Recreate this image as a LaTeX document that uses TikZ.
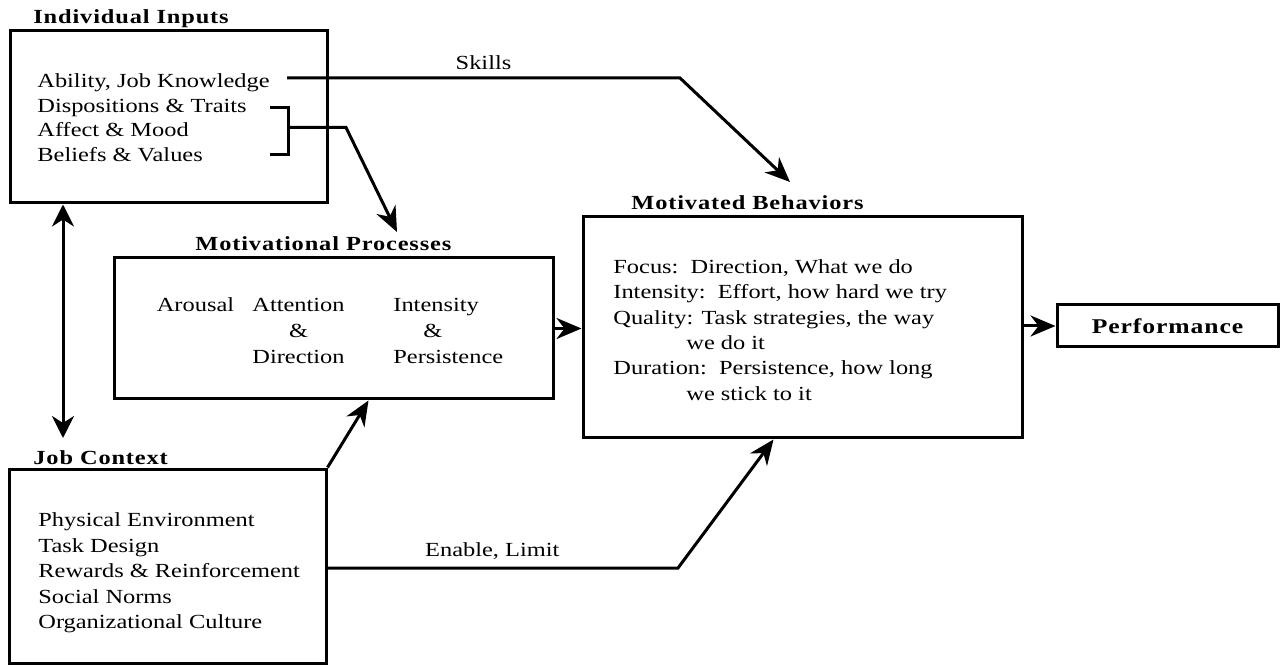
\documentclass[tikz,border=0pt]{standalone}
\usepackage{fontspec}
\setmainfont{Liberation Serif}[FakeStretch=1.22]
\newfontfamily\ttlfont{Liberation Serif}[FakeStretch=1.22,LetterSpace=4.3]
\usetikzlibrary{arrows.meta,calc}
\begin{document}
\begin{tikzpicture}[x=0.5pt,y=-0.5pt,
  box/.style={draw,line width=1.5pt,inner sep=0pt},
  conn/.style={line width=1.5pt},
  arr/.style={conn,-{Stealth[length=12.5pt,width=10.5pt,inset=4pt]}},
  dblarr/.style={conn,{Stealth[length=11pt,width=11pt,inset=3.5pt]}-{Stealth[length=11pt,width=11pt,inset=3.5pt]}},
  ttl/.style={font=\ttlfont\bfseries\fontsize{10}{12}\selectfont,inner sep=0pt,anchor=base west},
  txt/.style={inner sep=0pt},
  lbl/.style={font=\fontsize{10}{12}\selectfont}
]
\useasboundingbox (0,0) rectangle (1283,667);

% boxes
\node[box,minimum width=158.5pt,minimum height=86pt] (ii) at (168.5,117) {};
\node[box,minimum width=219.5pt,minimum height=70.5pt] (mp) at (333.5,328.5) {};
\node[box,minimum width=219.5pt,minimum height=110.5pt] (mb) at (802.5,327.5) {};
\node[box,minimum width=110.5pt,minimum height=21pt,font=\ttlfont\bfseries\fontsize{10.5}{12}\selectfont] (perf) at (1167.5,326) {Performance};
\node[box,minimum width=158.5pt,minimum height=97pt] (jc) at (167.5,566) {};

% titles
\node[ttl] (iititle) at (33,24) {Individual Inputs};
\node[ttl] (mptitle) at (195,251) {Motivational Processes};
\node[ttl] (mbtitle) at (631,210) {Motivated Behaviors};
\node[ttl] (jctitle) at (33,465) {Job Context};

% texts
\node[txt,align=left,anchor=west,font=\fontsize{10}{12.33}\selectfont] (iitext) at (37,117.6)
  {Ability, Job Knowledge\\Dispositions \& Traits\\Affect \& Mood\\Beliefs \& Values};

\node[txt,font=\fontsize{10}{13}\selectfont] (arousal) at (195.5,305) {Arousal};
\node[txt,align=center,font=\fontsize{10}{13}\selectfont] (attn) at (298.5,331) {Attention\\\&\\Direction};
\node[txt,align=left,anchor=west,font=\fontsize{10}{13}\selectfont] (inten) at (393,331) {Intensity\\\hspace*{15pt}\&\\Persistence};

\node[txt,align=left,anchor=west,font=\fontsize{10}{12.65}\selectfont] (mbtext) at (613,330)
  {Focus:\ \ Direction, What we do\\
   Intensity:\ \ Effort, how hard we try\\
   Quality: Task strategies, the way\\
   \hspace*{36.5pt}we do it\\
   Duration:\ \ Persistence, how long\\
   \hspace*{36.5pt}we stick to it};

\node[txt,align=left,anchor=west,font=\fontsize{10}{12.75}\selectfont] (jctext) at (38,572.8)
  {Physical Environment\\Task Design\\Rewards \& Reinforcement\\Social Norms\\Organizational Culture};

% connector points
\coordinate (skstart) at (287,78);
\coordinate (skbend) at (680,78);
\coordinate (sktip) at (790,182);
\coordinate (brtop) at (270,108);
\coordinate (brbot) at (270,155);
\coordinate (brmid) at (288,127.5);
\coordinate (brbend) at (346,127.5);
\coordinate (brtip) at (397,232);
\coordinate (dabot) at (63,438);
\coordinate (elbend) at (678,568);

% connectors
\draw[arr] (skstart) -- node[above,lbl] (skills) {Skills} (skbend) -- (sktip);
\draw[conn] (brtop) -| (brmid |- brbot) -- (brbot);
\draw[arr] (brmid) -- (brbend) -- (brtip);
\draw[dblarr] (ii.south -| dabot) -- (dabot);
\draw[arr] (jc.north east) -- ([xshift=128pt]mp.south west);
\draw[arr] (jc.east |- elbend) -- node[above,lbl,pos=0.47] (el) {Enable, Limit} (elbend) -- ([xshift=96pt]mb.south west);
\draw[arr] (mp.east) -- (mp.east -| mb.west);
\draw[arr] (perf.west -| mb.east) -- (perf.west);
\end{tikzpicture}
\end{document}
